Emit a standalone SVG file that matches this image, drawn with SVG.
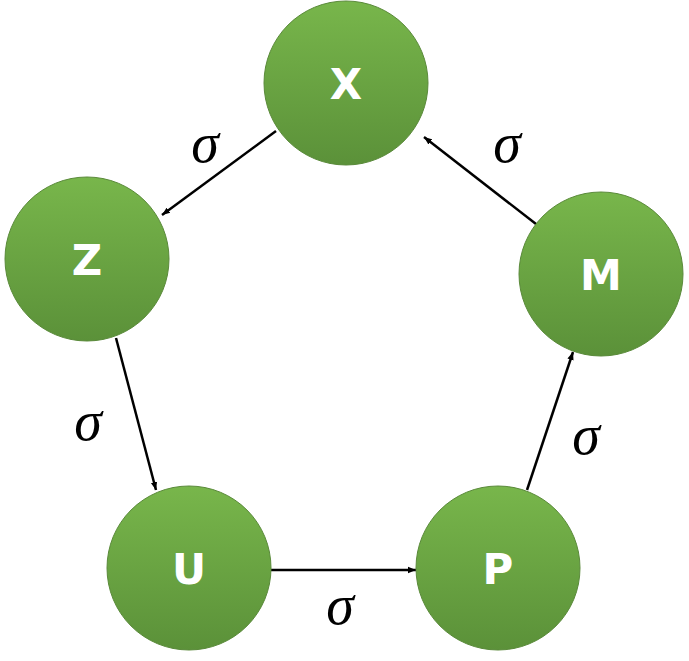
<svg xmlns="http://www.w3.org/2000/svg" width="689" height="661" viewBox="0 0 689 661">
<defs>
<linearGradient id="g" x1="0" y1="0" x2="0" y2="1"><stop offset="0" stop-color="#78b64b"/><stop offset="1" stop-color="#5b9139"/></linearGradient>
<marker id="a" viewBox="0 0 10 10" refX="10" refY="5" markerWidth="8" markerHeight="8" markerUnits="userSpaceOnUse" orient="auto"><path d="M0,1 L10,5 L0,9 z" fill="#000"/></marker>
</defs>
<style>
.n{fill:url(#g);stroke:#5a8a3a;stroke-width:1}
.t{font-family:"DejaVu Sans",sans-serif;font-weight:bold;font-size:42px;fill:#fff;text-anchor:middle}
.c{stroke:#000;stroke-width:2.5;fill:none;marker-end:url(#a)}
.s{font-family:"Liberation Serif",serif;font-style:italic;font-size:56px;fill:#000;text-anchor:middle}
</style>
<rect width="689" height="661" fill="#fff"/>
<g id="connectors">
<line class="c" x1="276" y1="131" x2="162" y2="215"/>
<line class="c" x1="116" y1="338" x2="156" y2="490"/>
<line class="c" x1="271" y1="570" x2="416" y2="570"/>
<line class="c" x1="527" y1="490" x2="573" y2="352"/>
<line class="c" x1="536" y1="224" x2="424" y2="137"/>
</g>
<g id="labels">
<text class="s" x="205" y="162">σ</text>
<text class="s" x="88" y="440">σ</text>
<text class="s" x="340" y="624">σ</text>
<text class="s" x="586" y="454">σ</text>
<text class="s" x="507" y="162">σ</text>
</g>
<g id="X"><circle class="n" cx="346" cy="83" r="82"/><text class="t" x="346" y="99">X</text></g>
<g id="Z"><circle class="n" cx="87" cy="259" r="82"/><text class="t" x="87" y="275">Z</text></g>
<g id="M"><circle class="n" cx="601" cy="274" r="82"/><text class="t" x="601" y="290">M</text></g>
<g id="U"><circle class="n" cx="189" cy="568" r="82"/><text class="t" x="189" y="584">U</text></g>
<g id="P"><circle class="n" cx="498" cy="568" r="82"/><text class="t" x="498" y="584">P</text></g>
</svg>
